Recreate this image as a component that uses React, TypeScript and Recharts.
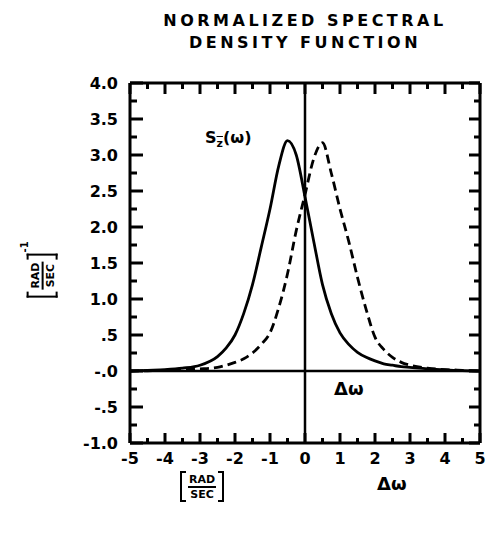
import { LineChart, Line, XAxis, YAxis, ReferenceLine } from 'recharts';

const X_VALUES = [-5, -4.5, -4, -3.5, -3, -2.5, -2.25, -2, -1.75, -1.5, -1.25, -1, -0.75, -0.5, -0.25, 0, 0.25, 0.5, 0.75, 1, 1.25, 1.5, 1.75, 2, 2.25, 2.5, 2.75, 3, 3.5, 4, 4.5, 5];
const SOLID = [0, 0.01, 0.02, 0.04, 0.08, 0.2, 0.32, 0.5, 0.8, 1.2, 1.72, 2.25, 2.85, 3.2, 3.0, 2.42, 1.8, 1.2, 0.8, 0.53, 0.37, 0.26, 0.19, 0.14, 0.1, 0.08, 0.06, 0.05, 0.03, 0.015, 0.005, 0];
const DASHED = [0, 0.003, 0.01, 0.02, 0.03, 0.05, 0.08, 0.12, 0.17, 0.25, 0.37, 0.53, 0.88, 1.35, 1.95, 2.45, 2.95, 3.17, 2.75, 2.25, 1.8, 1.3, 0.85, 0.47, 0.3, 0.19, 0.12, 0.08, 0.04, 0.02, 0.01, 0];

const X_MAJOR = [-5, -4, -3, -2, -1, 0, 1, 2, 3, 4, 5];
const X_ALL = [-5, -4.5, -4, -3.5, -3, -2.5, -2, -1.5, -1, -0.5, 0, 0.5, 1, 1.5, 2, 2.5, 3, 3.5, 4, 4.5, 5];
const X_TICK_LABELS = ['-5', '-4', '-3', '-2', '-1', '0', '1', '2', '3', '4', '5'];
const Y_MAJOR = [4, 3.5, 3, 2.5, 2, 1.5, 1, 0.5, 0, -0.5, -1];
const Y_ALL = [-1, -0.75, -0.5, -0.25, 0, 0.25, 0.5, 0.75, 1, 1.25, 1.5, 1.75, 2, 2.25, 2.5, 2.75, 3, 3.25, 3.5, 3.75, 4];
const Y_TICK_LABELS = ['4.0', '3.5', '3.0', '2.5', '2.0', '1.5', '1.0', '.5', '-.0', '-.5', '-1.0'];

const data = X_VALUES.map((x, i) => ({ x, solid: SOLID[i], dashed: DASHED[i] }));

const INK = '#000';
const FONT = '"DejaVu Sans", sans-serif';
const frame = { stroke: INK, strokeWidth: 3 };
const label = { fontSize: 16, fontFamily: FONT, fontWeight: 700, fill: INK };

// tick marks point into the frame, labels sit outside
function BottomTick({ x, y, payload }: any) {
  const i = X_MAJOR.indexOf(payload.value);
  return (
    <g>
      <path d={`M${x},${y}V${y - (i >= 0 ? 10 : 5)}`} stroke={INK} strokeWidth={3} fill="none" />
      {i >= 0 && <text x={x} y={y + 21} textAnchor="middle" {...label}>{X_TICK_LABELS[i]}</text>}
    </g>
  );
}

function TopTick({ x, y, payload }: any) {
  const big = X_MAJOR.includes(payload.value);
  return <path d={`M${x},${y}V${y + (big ? 11 : 6)}`} stroke={INK} strokeWidth={3} fill="none" />;
}

function LeftTick({ x, y, payload }: any) {
  const i = Y_MAJOR.indexOf(payload.value);
  return (
    <g>
      <path d={`M${x},${y}H${x + (i >= 0 ? 13 : 7)}`} stroke={INK} strokeWidth={3} fill="none" />
      {i >= 0 && <text x={x - 12} y={y + 6} textAnchor="end" {...label}>{Y_TICK_LABELS[i]}</text>}
    </g>
  );
}

function RightTick({ x, y, payload }: any) {
  const big = Y_MAJOR.includes(payload.value);
  return <path d={`M${x},${y}H${x - (big ? 11 : 6)}`} stroke={INK} strokeWidth={3} fill="none" />;
}

function RadSec({ sup }: { sup?: boolean }) {
  const side = { width: 4, height: 27, borderTop: `2px solid ${INK}`, borderBottom: `2px solid ${INK}` };
  return (
    <div style={{ display: 'flex', alignItems: 'center', fontFamily: FONT, fontWeight: 700, color: INK }}>
      <span style={{ ...side, borderLeft: `2px solid ${INK}` }} />
      <div style={{ display: 'flex', flexDirection: 'column', alignItems: 'center', fontSize: 11, lineHeight: 1, padding: '0 2px' }}>
        <span style={{ borderBottom: `2px solid ${INK}`, padding: '0 1px 1px' }}>RAD</span>
        <span style={{ paddingTop: 1 }}>SEC</span>
      </div>
      <span style={{ ...side, borderRight: `2px solid ${INK}` }} />
      {sup && <span style={{ alignSelf: 'flex-start', fontSize: 10, marginTop: -8, marginLeft: 1 }}>-1</span>}
    </div>
  );
}

export default function App() {
  const axis = { type: 'number' as const, interval: 0, tickSize: 0, tickMargin: 0, tickLine: false, axisLine: frame, allowDataOverflow: true };
  return (
    <div style={{ position: 'absolute', left: 0, top: 0, width: 497, height: 536, background: '#fff' }}>
      <LineChart width={497} height={536} data={data} margin={{ top: 82, right: 16, bottom: 92, left: 129 }}>
        <XAxis xAxisId="b" dataKey="x" {...axis} domain={[-5, 5]} ticks={X_ALL} height={1} tick={<BottomTick />} />
        <XAxis xAxisId="t" orientation="top" dataKey="x" {...axis} domain={[-5, 5]} ticks={X_ALL} height={1} tick={<TopTick />} />
        <YAxis yAxisId="l" {...axis} domain={[-1, 4]} ticks={Y_ALL} width={1} tick={<LeftTick />} />
        <YAxis yAxisId="r" orientation="right" {...axis} domain={[-1, 4]} ticks={Y_ALL} width={1} tick={<RightTick />} />
        <ReferenceLine xAxisId="b" yAxisId="l" x={0} stroke={INK} strokeWidth={2.5} />
        <ReferenceLine xAxisId="b" yAxisId="l" y={0} stroke={INK} strokeWidth={2.5} />
        <Line xAxisId="b" yAxisId="l" dataKey="solid" type="monotone" stroke={INK} strokeWidth={2.8} dot={false} isAnimationActive={false} />
        <Line xAxisId="t" yAxisId="r" dataKey="dashed" type="monotone" stroke={INK} strokeWidth={2.8} strokeDasharray="9 5" dot={false} isAnimationActive={false} />
      </LineChart>

      <div style={{ position: 'absolute', left: 0, width: 610, top: 10, textAlign: 'center', fontFamily: FONT, fontWeight: 700, fontSize: 16, letterSpacing: 3.5, lineHeight: '22px', color: INK }}>
        NORMALIZED SPECTRAL<br />DENSITY FUNCTION
      </div>

      <div style={{ position: 'absolute', left: 205, top: 128, fontFamily: FONT, fontWeight: 700, fontSize: 16, color: INK }}>
        S<sub style={{ fontSize: 11, textDecoration: 'overline' }}>z</sub>(ω)
      </div>

      <div style={{ position: 'absolute', left: 334, top: 378, fontFamily: FONT, fontWeight: 700, fontSize: 18, color: INK }}>Δω</div>

      <div style={{ position: 'absolute', left: 180, top: 471 }}><RadSec /></div>
      <div style={{ position: 'absolute', left: 377, top: 473, fontFamily: FONT, fontWeight: 700, fontSize: 18, color: INK }}>Δω</div>

      <div style={{ position: 'absolute', left: 14, top: 254, transform: 'rotate(-90deg)' }}><RadSec sup /></div>
    </div>
  );
}
